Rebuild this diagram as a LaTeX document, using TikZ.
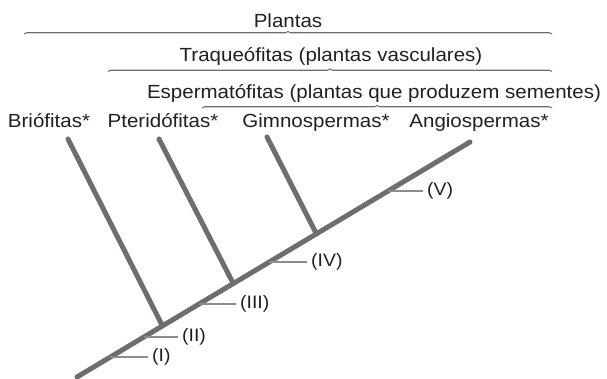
\documentclass[tikz,border=0pt]{standalone}
\usepackage{fontspec}
\setmainfont{Liberation Sans}[FakeStretch=1.08]
\usetikzlibrary{decorations.pathreplacing}
\definecolor{txt}{HTML}{231F20}
\definecolor{branch}{HTML}{6D6E71}
\definecolor{tickc}{HTML}{8A8C8E}
\begin{document}
\begin{tikzpicture}[x=1pt,y=-1pt,
  lbl/.style={font=\fontsize{19}{22}\selectfont, text=txt, inner sep=0pt, anchor=base},
  roman/.style={font=\fontsize{18}{21}\selectfont, text=txt, inner xsep=4pt, inner ysep=0pt, anchor=west},
  branchline/.style={draw=branch, line width=5pt, line cap=round},
  tickline/.style={draw=tickc, line width=2pt},
  bracket/.style={draw=branch, line width=1.1pt, decorate, decoration={brace, amplitude=2.5pt}}]
\useasboundingbox (0,0) rectangle (607,379);
% header labels
\node[lbl] (plantas) at (288,27.5) {Plantas};
\node[lbl] (traq) at (331,62) {Traqueófitas (plantas vasculares)};
\node[lbl] (esperm) at (374,99) {Espermatófitas (plantas que produzem sementes)};
% brackets
\coordinate (pL) at (24,34); \coordinate (pR) at (552,34);
\coordinate (tL) at (108,71.5); \coordinate (tR) at (552,71.5);
\coordinate (eL) at (202,108); \coordinate (eR) at (552,108);
\draw[bracket] (pL) -- (pR);
\draw[bracket] (tL) -- (tR);
\draw[bracket] (eL) -- (eR);
% species labels
\node[lbl] (brio) at (49,128) {Briófitas*};
\node[lbl] (pter) at (163,128) {Pteridófitas*};
\node[lbl] (gimno) at (316,128) {Gimnospermas*};
\node[lbl] (angio) at (479,128) {Angiospermas*};
% stem and branches
\coordinate (base) at (77,377);
\coordinate (top) at (470,142);
\coordinate (b1) at (68,139); \coordinate (j1) at (162,325);
\coordinate (b2) at (159,139); \coordinate (j2) at (233,283);
\coordinate (b3) at (267,137); \coordinate (j3) at (316,233);
\draw[branchline] (b1) -- (j1);
\draw[branchline] (b2) -- (j2);
\draw[branchline] (b3) -- (j3);
\draw[branchline] (base) -- (top);
% ticks
\coordinate (s1) at (110.4,357);
\coordinate (s2) at (143.9,337);
\coordinate (s3) at (199.1,304);
\coordinate (s4) at (269.3,262);
\coordinate (s5) at (388.0,191);
\node[roman] (r1) at (148,357) {(I)};
\node[roman] (r2) at (178,337) {(II)};
\node[roman] (r3) at (236,304) {(III)};
\node[roman] (r4) at (307,262) {(IV)};
\node[roman] (r5) at (423,191) {(V)};
\draw[tickline] (s1) -- (r1.west);
\draw[tickline] (s2) -- (r2.west);
\draw[tickline] (s3) -- (r3.west);
\draw[tickline] (s4) -- (r4.west);
\draw[tickline] (s5) -- (r5.west);
\end{tikzpicture}
\end{document}
